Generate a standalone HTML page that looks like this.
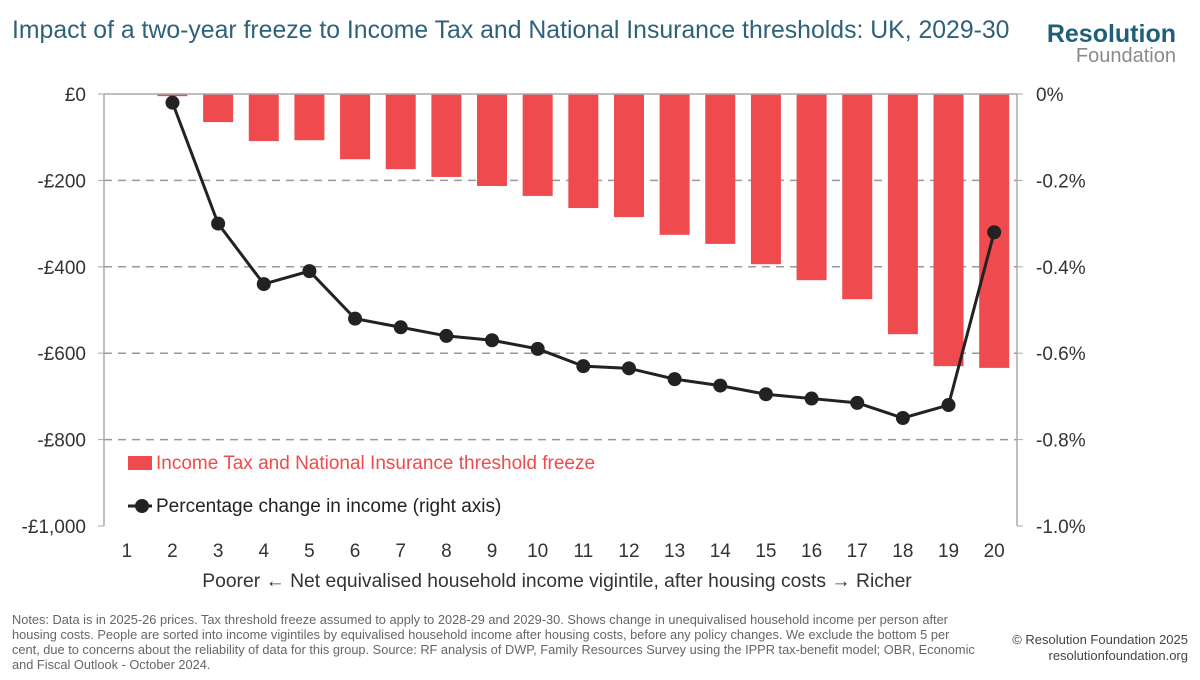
<!DOCTYPE html>
<html><head><meta charset="utf-8"><style>
body{margin:0;background:#fff;font-family:"Liberation Sans",sans-serif}
svg text{font-family:"Liberation Sans",sans-serif}
</style></head><body>
<svg width="1200" height="675" viewBox="0 0 1200 675">
<text x="12" y="38" font-size="24.8" fill="#2e6278">Impact of a two-year freeze to Income Tax and National Insurance thresholds: UK, 2029-30</text>
<text x="1176" y="42" font-size="25" font-weight="bold" fill="#1f5f7a" text-anchor="end">Resolution</text>
<text x="1176" y="62" font-size="20" fill="#8a8a8a" text-anchor="end">Foundation</text>
<g id="grid"></g><g id="bars"></g><g id="line"></g><g id="axes"></g>
<rect x="128" y="456" width="24" height="14" fill="#ef4a4d"/>
<text x="156" y="469" font-size="19" fill="#ef4a4d">Income Tax and National Insurance threshold freeze</text>
<line x1="128" y1="506" x2="152" y2="506" stroke="#222" stroke-width="3"/>
<circle cx="142" cy="506" r="7" fill="#222"/>
<text x="156" y="512" font-size="19" fill="#222">Percentage change in income (right axis)</text>
<text x="557" y="587" font-size="19.3" fill="#333" text-anchor="middle">Poorer ← Net equivalised household income vigintile, after housing costs → Richer</text>
<g font-size="12.8" fill="#666">
<text x="12" y="624">Notes: Data is in 2025-26 prices. Tax threshold freeze assumed to apply to 2028-29 and 2029-30. Shows change in unequivalised household income per person after</text>
<text x="12" y="639">housing costs. People are sorted into income vigintiles by equivalised household income after housing costs, before any policy changes. We exclude the bottom 5 per</text>
<text x="12" y="654">cent, due to concerns about the reliability of data for this group. Source: RF analysis of DWP, Family Resources Survey using the IPPR tax-benefit model; OBR, Economic</text>
<text x="12" y="669">and Fiscal Outlook - October 2024.</text>
</g>
<text x="1188" y="644" font-size="13" fill="#444" text-anchor="end">© Resolution Foundation 2025</text>
<text x="1188" y="660" font-size="13" fill="#444" text-anchor="end">resolutionfoundation.org</text>
</svg>
<script>
const categories=["1","2","3","4","5","6","7","8","9","10","11","12","13","14","15","16","17","18","19","20"];
const barValues=[null,-5,-65,-109,-107,-151,-174,-192,-213,-236,-264,-285,-326,-347,-394,-431,-475,-556,-630,-634];
const pctValues=[null,-0.02,-0.30,-0.44,-0.41,-0.52,-0.54,-0.56,-0.57,-0.59,-0.63,-0.635,-0.66,-0.675,-0.695,-0.705,-0.715,-0.75,-0.72,-0.32];
const leftTicks=[0,-200,-400,-600,-800,-1000];
const leftLabels=["£0","-£200","-£400","-£600","-£800","-£1,000"];
const rightTicks=[0,-0.2,-0.4,-0.6,-0.8,-1.0];
const rightLabels=["0%","-0.2%","-0.4%","-0.6%","-0.8%","-1.0%"];
const NS="http://www.w3.org/2000/svg";
const X0=104,X1=1017,Y0=94,Y1=526;
const step=(X1-X0)/categories.length;
const xs=i=>X0+step*(i+0.5);
const yL=v=>Y0+(0-v)/1000*(Y1-Y0);
const yR=v=>Y0+(0-v)/1.0*(Y1-Y0);
function mk(t,a,p){const e=document.createElementNS(NS,t);for(const k in a)e.setAttribute(k,a[k]);p.appendChild(e);return e;}
const grid=document.getElementById('grid'),bars=document.getElementById('bars'),line=document.getElementById('line'),axes=document.getElementById('axes');
leftTicks.forEach((v,i)=>{
 const y=yL(v);
 if(v!==0&&v!==-1000){const g=mk('line',{x1:X0,x2:X1,y1:y,y2:y,stroke:'#999','stroke-width':1.5,'stroke-dasharray':'8,6'},grid);
 
 }
 const t=mk('line',{x1:X0-6,x2:X0,y1:y,y2:y,stroke:'#aaa'},axes);
 
 
 const l=mk('text',{x:X0-18,y:y+7,'font-size':19,fill:'#333','text-anchor':'end'},axes);l.textContent=leftLabels[i];
 
 
});
rightTicks.forEach((v,i)=>{
 const y=yR(v);
 const t=mk('line',{x1:X1,x2:X1+6,y1:y,y2:y,stroke:'#aaa'},axes);
 
 
 const l=mk('text',{x:X1+19,y:y+7,'font-size':19,fill:'#333'},axes);l.textContent=rightLabels[i];
 
 
});
const z=mk('line',{x1:X0,x2:X1,y1:Y0,y2:Y0,stroke:'#aaa','stroke-width':1.5},axes);


const la=mk('line',{x1:X0,x2:X0,y1:Y0,y2:Y1,stroke:'#aaa','stroke-width':1.5},axes);


const ra=mk('line',{x1:X1,x2:X1,y1:Y0,y2:Y1,stroke:'#aaa','stroke-width':1.5},axes);


categories.forEach((c,i)=>{
 const l=mk('text',{x:xs(i),y:557,'font-size':19,fill:'#333','text-anchor':'middle'},axes);l.textContent=c;
 
 
 const v=barValues[i];
 if(v!==null){const b=mk('rect',{x:xs(i)-15,y:Y0,width:30,height:Math.max(1,yL(v)-Y0),fill:'#ef4a4d'},bars);
 
 }
});
const pts=[];pctValues.forEach((v,i)=>{if(v!==null)pts.push([xs(i),yR(v)]);});
const pl=mk('polyline',{points:pts.map(p=>p.join(',')).join(' '),fill:'none',stroke:'#222','stroke-width':3},line);


pts.forEach(p=>{const c=mk('circle',{cx:p[0],cy:p[1],r:7,fill:'#222'},line);
 
 });
</script>
</body></html>
